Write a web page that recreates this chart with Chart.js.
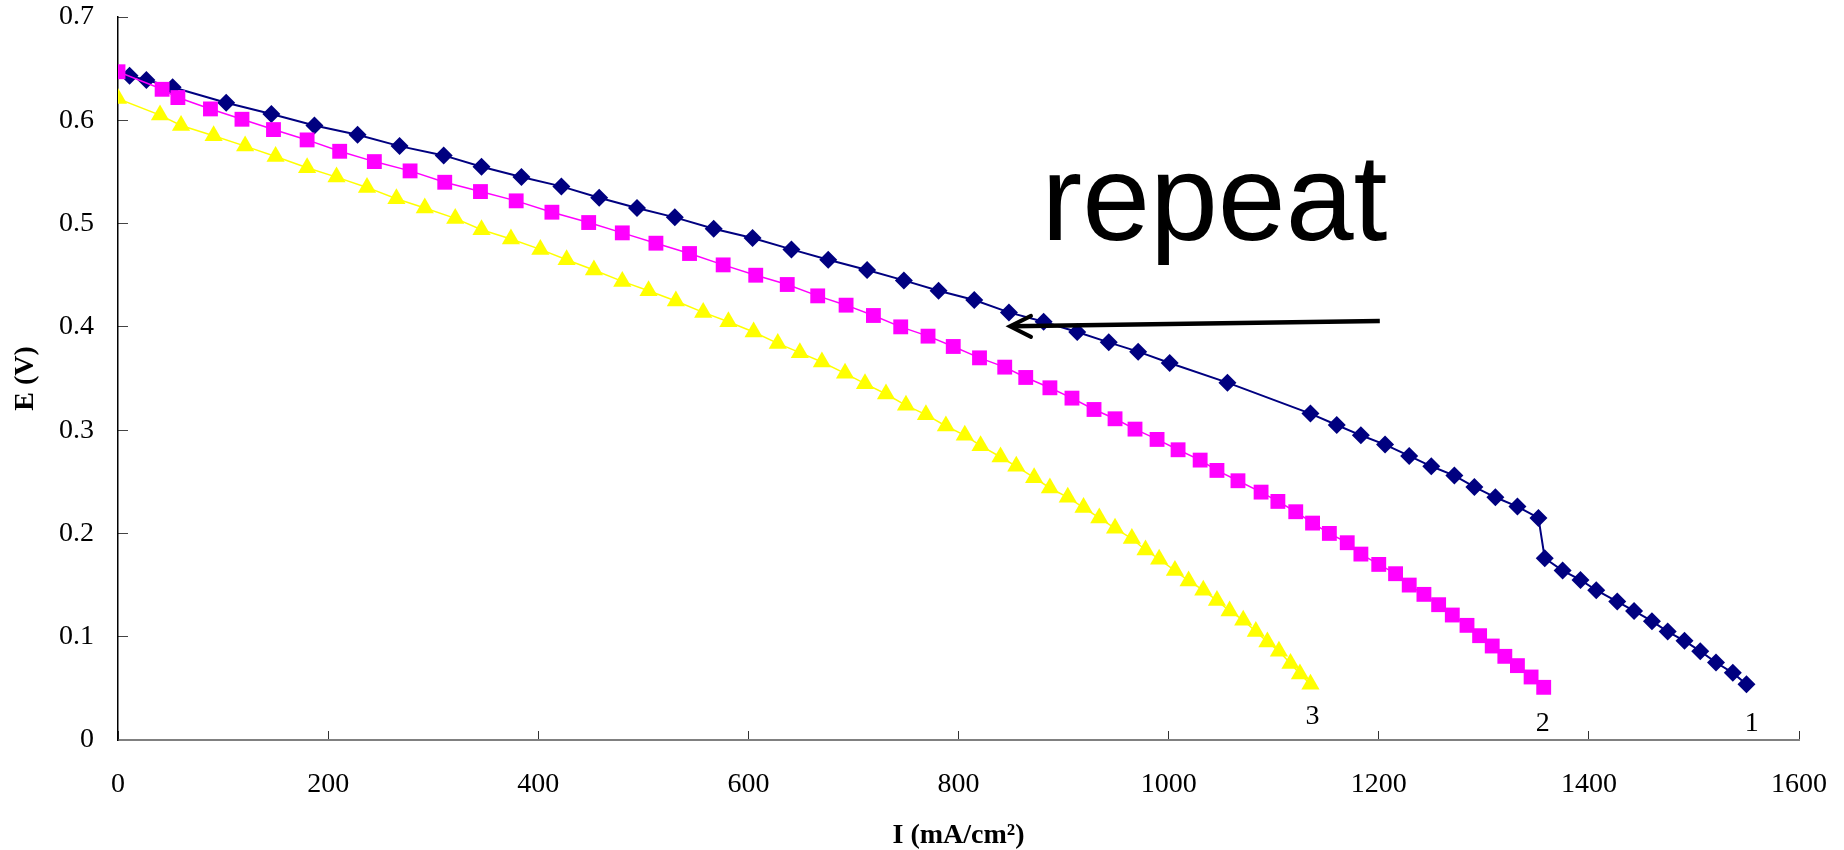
<!DOCTYPE html>
<html>
<head>
    <title>E vs I</title>
    <style>
        body { margin: 0; background: #fff; }
        .chart-box { width: 1844px; height: 850px; }
    </style>
    <script src="https://cdn.jsdelivr.net/npm/chart.js"></script>
</head>
<body>
    <div class="chart-box">
        <canvas id="ivChart" width="1844" height="850"></canvas>
    </div>

    <script>
        // curve 1 (navy diamonds)
        const i1 = [11, 27, 52, 103, 146, 187, 228, 268, 310, 346, 384, 422, 458, 494, 530, 567, 604, 641, 676, 713,
                    748, 781, 815, 848, 881, 913, 943, 971, 1001, 1056, 1135, 1160, 1183, 1206, 1229, 1250, 1272, 1291, 1311, 1332,
                    1352, 1358, 1375, 1392, 1407, 1427, 1443, 1460, 1475, 1491, 1506, 1521, 1537, 1550];
        const e1 = [0.643, 0.639, 0.632, 0.617, 0.606, 0.595, 0.586, 0.575, 0.566, 0.555, 0.545, 0.536, 0.525, 0.515, 0.506, 0.495, 0.486, 0.475, 0.465, 0.455,
                    0.445, 0.435, 0.426, 0.414, 0.405, 0.395, 0.385, 0.376, 0.365, 0.346, 0.316, 0.305, 0.295, 0.286, 0.275, 0.265, 0.256, 0.245, 0.235, 0.226,
                    0.215, 0.176, 0.164, 0.155, 0.145, 0.134, 0.125, 0.115, 0.105, 0.096, 0.086, 0.075, 0.065, 0.054];

        // curve 2 (magenta squares)
        const i2 = [0, 42, 57, 88, 118, 148, 180, 211, 244, 278, 311, 345, 379, 413, 448, 480, 512, 544, 576, 607,
                    637, 666, 693, 719, 745, 771, 795, 820, 844, 864, 887, 908, 929, 949, 968, 989, 1009, 1030, 1046, 1066,
                    1088, 1104, 1121, 1137, 1153, 1170, 1183, 1200, 1216, 1229, 1243, 1257, 1270, 1284, 1296, 1308, 1320, 1332, 1345, 1357];
        const e2 = [0.647, 0.630, 0.622, 0.611, 0.601, 0.591, 0.581, 0.570, 0.560, 0.551, 0.540, 0.531, 0.522, 0.511, 0.501, 0.491, 0.481, 0.471, 0.460, 0.450,
                    0.441, 0.430, 0.421, 0.411, 0.400, 0.391, 0.381, 0.370, 0.361, 0.351, 0.341, 0.331, 0.320, 0.311, 0.301, 0.291, 0.281, 0.271, 0.261, 0.251,
                    0.240, 0.231, 0.221, 0.210, 0.200, 0.191, 0.180, 0.170, 0.161, 0.150, 0.141, 0.131, 0.121, 0.111, 0.101, 0.091, 0.081, 0.072, 0.061, 0.051];

        // curve 3 (yellow triangles)
        const i3 = [0, 40, 60, 91, 121, 150, 180, 208, 237, 265, 292, 321, 346, 374, 402, 427, 453, 480, 505, 531,
                    557, 581, 605, 628, 649, 670, 692, 711, 731, 750, 769, 788, 806, 821, 840, 855, 872, 887, 904, 919,
                    934, 949, 965, 978, 991, 1006, 1019, 1033, 1046, 1058, 1071, 1083, 1094, 1105, 1116, 1125, 1135];
        const e3 = [0.621, 0.605, 0.595, 0.585, 0.575, 0.565, 0.554, 0.545, 0.535, 0.524, 0.515, 0.505, 0.494, 0.485, 0.475, 0.465, 0.455, 0.444, 0.435, 0.425,
                    0.414, 0.405, 0.395, 0.384, 0.375, 0.366, 0.355, 0.345, 0.335, 0.324, 0.315, 0.304, 0.295, 0.285, 0.274, 0.265, 0.254, 0.244, 0.235, 0.225,
                    0.215, 0.205, 0.195, 0.184, 0.175, 0.164, 0.154, 0.145, 0.135, 0.125, 0.116, 0.105, 0.095, 0.086, 0.074, 0.064, 0.054];

        // curve numbers written near the ends
        const curveNames = ['1', '2', '3'];
        const curveNameI = [1555, 1356, 1137];
        const curveNameE = [0.016, 0.016, 0.023];

        // "repeat" note and its arrow (data coordinates)
        const noteText = 'repeat';
        const noteAt = [879, 0.4845];
        const arrowFrom = [1201, 0.4057];
        const arrowTo = [849, 0.4005];

        const toPoints = (xs, ys) => xs.map((x, k) => ({ x: x, y: ys[k] }));

        // small plugin for the text notes and the arrow
        const notesPlugin = {
            id: 'notes',
            afterDatasetsDraw(chart) {
                const ctx = chart.ctx;
                const xs = chart.scales.x;
                const ys = chart.scales.y;
                ctx.save();

                // curve numbers
                ctx.fillStyle = '#000';
                ctx.font = '28px "Liberation Serif"';
                ctx.textAlign = 'center';
                ctx.textBaseline = 'middle';
                curveNames.forEach((t, k) => {
                    ctx.fillText(t, xs.getPixelForValue(curveNameI[k]), ys.getPixelForValue(curveNameE[k]));
                });

                // big note
                ctx.font = '122px "Liberation Sans"';
                ctx.textAlign = 'left';
                ctx.textBaseline = 'alphabetic';
                ctx.fillText(noteText, xs.getPixelForValue(noteAt[0]), ys.getPixelForValue(noteAt[1]));

                // arrow
                const x0 = xs.getPixelForValue(arrowFrom[0]);
                const y0 = ys.getPixelForValue(arrowFrom[1]);
                const x1 = xs.getPixelForValue(arrowTo[0]);
                const y1 = ys.getPixelForValue(arrowTo[1]);
                ctx.strokeStyle = '#000';
                ctx.lineWidth = 4.5;
                ctx.lineCap = 'butt';
                ctx.beginPath();
                ctx.moveTo(x0, y0);
                ctx.lineTo(x1 + 2, y1);
                ctx.stroke();
                ctx.lineWidth = 4;
                ctx.lineCap = 'round';
                ctx.lineJoin = 'miter';
                ctx.beginPath();
                ctx.moveTo(x1 + 21, y1 - 10.5);
                ctx.lineTo(x1, y1);
                ctx.lineTo(x1 + 21, y1 + 10.5);
                ctx.stroke();

                ctx.restore();
            }
        };

        const ctx = document.getElementById('ivChart').getContext('2d');
        new Chart(ctx, {
            type: 'scatter',
            data: {
                datasets: [{
                    label: '1',
                    data: toPoints(i1, e1),
                    showLine: true,
                    borderColor: '#000080',
                    backgroundColor: '#000080',
                    borderWidth: 2,
                    pointStyle: 'rectRot',
                    pointRadius: 9,
                    pointBorderWidth: 0,
                    order: 3
                }, {
                    label: '2',
                    data: toPoints(i2, e2),
                    showLine: true,
                    borderColor: '#FF00FF',
                    backgroundColor: '#FF00FF',
                    borderWidth: 1.5,
                    pointStyle: 'rect',
                    pointRadius: 10.5,
                    pointBorderWidth: 0,
                    order: 2
                }, {
                    label: '3',
                    data: toPoints(i3, e3),
                    showLine: true,
                    borderColor: '#FFFF00',
                    backgroundColor: '#FFFF00',
                    borderWidth: 1.5,
                    pointStyle: 'triangle',
                    pointRadius: 10.5,
                    pointBorderWidth: 0,
                    order: 1
                }]
            },
            options: {
                responsive: false,
                animation: false,
                layout: {
                    padding: { left: 0, right: 45, top: 17, bottom: 0 }
                },
                plugins: {
                    legend: { display: false },
                    tooltip: { enabled: false }
                },
                scales: {
                    x: {
                        type: 'linear',
                        min: 0,
                        max: 1600,
                        afterFit: (scale) => {
                            scale.height = 110;
                            scale.paddingLeft = 0;
                            scale.paddingRight = 0;
                        },
                        ticks: {
                            stepSize: 200,
                            color: '#000',
                            padding: 37,
                            maxRotation: 0,
                            font: { family: '"Liberation Serif"', size: 28 },
                            callback: (v) => String(v)
                        },
                        grid: {
                            drawOnChartArea: false,
                            drawTicks: true,
                            tickLength: -9,
                            color: '#333',
                            lineWidth: 1
                        },
                        border: { color: '#808080', width: 2 },
                        title: {
                            display: true,
                            text: 'I (mA/cm²)',
                            color: '#000',
                            padding: { top: 0, bottom: 0 },
                            font: { family: '"Liberation Serif"', size: 28, weight: 'bold', lineHeight: 1.0 }
                        }
                    },
                    y: {
                        type: 'linear',
                        min: 0,
                        max: 0.7,
                        afterFit: (scale) => {
                            scale.width = 118;
                            scale.paddingTop = 0;
                            scale.paddingBottom = 0;
                        },
                        ticks: {
                            stepSize: 0.1,
                            color: '#000',
                            padding: 34,
                            font: { family: '"Liberation Serif"', size: 28 },
                            callback: (v) => Number(v.toFixed(1)).toString()
                        },
                        grid: {
                            drawOnChartArea: false,
                            drawTicks: true,
                            tickLength: -10,
                            color: '#444',
                            lineWidth: 1
                        },
                        border: { color: '#000', width: 1.5 },
                        title: {
                            display: true,
                            text: 'E (V)',
                            color: '#000',
                            padding: { top: 9, bottom: 0 },
                            font: { family: '"Liberation Serif"', size: 28, weight: 'bold', lineHeight: 1.2 }
                        }
                    }
                }
            },
            plugins: [notesPlugin]
        });
    </script>
</body>
</html>
